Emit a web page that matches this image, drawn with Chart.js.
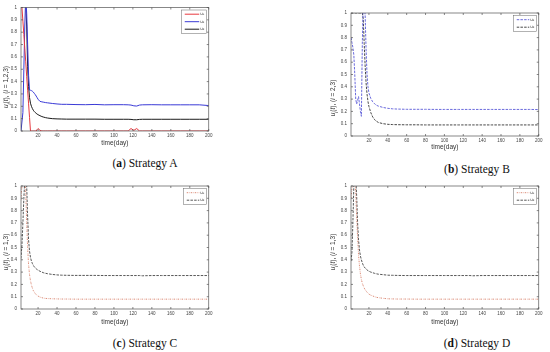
<!DOCTYPE html>
<html><head><meta charset="utf-8">
<script src="https://cdn.jsdelivr.net/npm/chart.js@4.4.1/dist/chart.umd.min.js"></script>
<style>
html,body{margin:0;padding:0;background:#fff;}
body{width:550px;height:352px;position:relative;overflow:hidden;font-family:'Liberation Sans',Arial,sans-serif;}
canvas{position:absolute;}
.ylab{position:absolute;white-space:nowrap;font-size:6.5px;color:#333;transform:translate(-50%,-50%) rotate(-90deg);}
.ylab sub{font-size:4.5px;}
.cap{position:absolute;white-space:nowrap;font-family:'Liberation Serif',serif;font-size:11.5px;color:#111;transform:translate(-50%,-50%);}
</style></head><body>
<canvas id="cA" width="215" height="147" style="left:0;top:0"></canvas>
<canvas id="cB" width="215" height="151" style="left:330px;top:0"></canvas>
<canvas id="cC" width="215" height="150" style="left:0;top:176px"></canvas>
<canvas id="cD" width="215" height="150" style="left:330px;top:176px"></canvas>

<div class="ylab" style="left:7px;top:87px"><i>u<sub>i</sub></i>(<i>t</i>), (<i>i</i> = 1,2,3)</div>
<div class="ylab" style="left:334px;top:98px"><i>u<sub>i</sub></i>(<i>t</i>), (<i>i</i> = 2,3)</div>
<div class="ylab" style="left:7px;top:252px"><i>u<sub>i</sub></i>(<i>t</i>), (<i>i</i> = 1,3)</div>
<div class="ylab" style="left:334px;top:252px"><i>u<sub>i</sub></i>(<i>t</i>), (<i>i</i> = 1,3)</div>

<div class="cap" style="left:145px;top:163px">(<b>a</b>) Strategy A</div>
<div class="cap" style="left:477px;top:169px">(<b>b</b>) Strategy B</div>
<div class="cap" style="left:145px;top:343px">(<b>c</b>) Strategy C</div>
<div class="cap" style="left:477px;top:343px">(<b>d</b>) Strategy D</div>

<script>
// ---- data ----
const days = [1,2,3,4,5,6,7,8,9,10,11,12,13,14,15,16,17,18,19,20,22,24,26,28,30,35,40,45,50,60,70,80,90,100,110,115,118,121,124,127,130,140,150,160,170,180,190,200];
const xTicks = [20,40,60,80,100,120,140,160,180,200];
const yTicks = [0,0.1,0.2,0.3,0.4,0.5,0.6,0.7,0.8,0.9,1];
const xTitle = 'time(day)';

// Strategy A
const aU1 = [1.3,1.15,1.0,0.89,0.78,0.67,0.56,0.44,0.33,0.22,0.11,0,0,0,0,0,0,0,0.012,0.02,0.006,0,0,0,0,0,0,0,0,0,0,0,0,0,0,0,0.02,0.005,0.02,0,0,0,0,0,0,0,0,0];
const aU2 = [0,0,0,0.15,0.5,0.85,1.1,0.95,0.7,0.45,0.33,0.33,0.327,0.322,0.315,0.305,0.295,0.283,0.27,0.257,0.24,0.236,0.233,0.23,0.228,0.223,0.219,0.216,0.216,0.214,0.213,0.215,0.212,0.213,0.213,0.212,0.21,0.204,0.202,0.21,0.212,0.213,0.212,0.212,0.212,0.212,0.212,0.206];
const aU3 = [1.3,1.25,1.2,1.15,1.1,1.06,1.02,0.85,0.52,0.36,0.27,0.225,0.2,0.182,0.168,0.158,0.15,0.143,0.137,0.132,0.124,0.117,0.112,0.108,0.105,0.1,0.098,0.097,0.096,0.096,0.096,0.096,0.095,0.095,0.095,0.095,0.094,0.091,0.091,0.094,0.095,0.095,0.095,0.095,0.095,0.095,0.095,0.095];

// Strategy B
const bU2 = [0.8,0.76,0.72,0.66,0.5,0.3,0.26,0.29,0.32,0.26,0.2,0.16,0.75,1.1,1.1,0.98,0.7,0.5,0.4,0.35,0.305,0.278,0.262,0.25,0.243,0.232,0.225,0.221,0.219,0.217,0.217,0.217,0.216,0.216,0.216,0.216,0.216,0.216,0.216,0.216,0.216,0.216,0.216,0.216,0.216,0.216,0.216,0.215];
const bU3 = [1,1,1,1,1,1,1,1,1,1,1,1,1,0.95,0.75,0.57,0.43,0.34,0.28,0.24,0.19,0.155,0.133,0.12,0.11,0.1,0.095,0.093,0.092,0.091,0.091,0.09,0.09,0.09,0.09,0.09,0.09,0.09,0.09,0.09,0.09,0.09,0.09,0.09,0.09,0.09,0.09,0.09];

// Strategy C
const cU1 = [0.85,0.9,1.0,1.08,1.1,1.05,0.95,0.7,0.5,0.36,0.28,0.23,0.195,0.17,0.15,0.137,0.126,0.117,0.11,0.105,0.097,0.092,0.088,0.086,0.085,0.083,0.082,0.081,0.081,0.08,0.08,0.08,0.08,0.08,0.08,0.08,0.08,0.08,0.08,0.08,0.08,0.08,0.08,0.08,0.08,0.08,0.08,0.08];
const cU3 = [0.38,0.42,0.52,0.7,0.9,1.05,1.1,1.0,0.75,0.56,0.47,0.42,0.39,0.37,0.355,0.343,0.334,0.327,0.321,0.316,0.307,0.3,0.294,0.29,0.287,0.281,0.277,0.275,0.274,0.273,0.273,0.273,0.272,0.272,0.272,0.272,0.272,0.272,0.272,0.272,0.27,0.272,0.272,0.272,0.272,0.272,0.272,0.272];

// Strategy D
const dU1 = [0.9,0.98,1.05,1.1,1.05,0.95,0.75,0.58,0.44,0.35,0.285,0.24,0.21,0.188,0.17,0.157,0.146,0.137,0.128,0.121,0.112,0.106,0.1,0.095,0.092,0.087,0.083,0.082,0.081,0.081,0.08,0.08,0.08,0.08,0.08,0.08,0.08,0.08,0.08,0.08,0.08,0.08,0.08,0.08,0.08,0.08,0.08,0.08];
const dU3 = [0.39,0.46,0.7,1.0,1.1,1.08,0.92,0.7,0.56,0.48,0.43,0.4,0.375,0.356,0.342,0.333,0.325,0.318,0.312,0.307,0.3,0.295,0.29,0.286,0.283,0.279,0.275,0.274,0.273,0.272,0.272,0.272,0.272,0.272,0.272,0.272,0.272,0.272,0.272,0.272,0.27,0.272,0.272,0.272,0.272,0.272,0.272,0.272];

// ---- drawing ----
const pts = arr => days.map((d, i) => ({x: d, y: arr[i]}));

const frame = {
  id: 'frame',
  afterDatasetsDraw(chart, args, o) {
    const {ctx, chartArea: a, scales: {x, y}} = chart;
    ctx.save();
    ctx.strokeStyle = '#555';
    ctx.lineWidth = 0.7;
    ctx.setLineDash([]);
    ctx.strokeRect(a.left, a.top, a.right - a.left, a.bottom - a.top);
    ctx.beginPath();
    x.ticks.forEach(t => {
      const p = x.getPixelForValue(t.value);
      ctx.moveTo(p, a.bottom); ctx.lineTo(p, a.bottom - 2);
      ctx.moveTo(p, a.top); ctx.lineTo(p, a.top + 2);
    });
    y.ticks.forEach(t => {
      const p = y.getPixelForValue(t.value);
      ctx.moveTo(a.left, p); ctx.lineTo(a.left + 2, p);
      ctx.moveTo(a.right, p); ctx.lineTo(a.right - 2, p);
    });
    ctx.stroke();
    // legend box
    const ds = chart.data.datasets;
    const w = o.w, rh = 7.5, h = ds.length * rh + 1;
    const bx = a.right - 2 - w, by = a.top + 2.5;
    ctx.fillStyle = '#fff';
    ctx.fillRect(bx, by, w, h);
    ctx.lineWidth = 0.5;
    ctx.strokeStyle = '#666';
    ctx.strokeRect(bx, by, w, h);
    ds.forEach((d, i) => {
      const cy = by + 4.2 + i * rh;
      ctx.beginPath();
      ctx.setLineDash(d.borderDash || []);
      ctx.strokeStyle = d.borderColor;
      ctx.lineWidth = d.borderWidth;
      ctx.moveTo(bx + 3, cy); ctx.lineTo(bx + w - 7.5, cy);
      ctx.stroke();
      ctx.setLineDash([]);
      ctx.fillStyle = '#333';
      ctx.font = '4px "DejaVu Sans"';
      ctx.textBaseline = 'middle';
      ctx.textAlign = 'left';
      ctx.fillText(d.label, bx + w - 6.5, cy);
    });
    ctx.restore();
  }
};

function makeChart(id, datasets, xMin, padTop, padRight, xH, legW) {
  return new Chart(document.getElementById(id), {
    type: 'line',
    data: {datasets},
    plugins: [frame],
    options: {
      responsive: false,
      animation: false,
      events: [],
      layout: {padding: {left: 0, right: padRight, top: padTop, bottom: 0}},
      elements: {point: {radius: 0}, line: {tension: 0}},
      plugins: {legend: {display: false}, tooltip: {enabled: false}, frame: {w: legW}},
      scales: {
        x: {
          type: 'linear', min: xMin, max: 200,
          afterBuildTicks: s => { s.ticks = xTicks.map(v => ({value: v})); },
          afterFit: s => { s.height = xH; },
          grid: {display: false, drawTicks: false},
          border: {display: false},
          ticks: {font: {size: 4.5, family: 'Liberation Sans'}, color: '#444', padding: 2.5, maxRotation: 0, autoSkip: false, callback: v => String(v)},
          title: {display: true, text: xTitle, font: {size: 6.5, family: 'Liberation Sans'}, color: '#333', padding: 0}
        },
        y: {
          type: 'linear', min: 0, max: 1,
          afterBuildTicks: s => { s.ticks = yTicks.map(v => ({value: v})); },
          afterFit: s => { s.width = 21; },
          grid: {display: false, drawTicks: false},
          border: {display: false},
          ticks: {font: {size: 4.5, family: 'Liberation Sans'}, color: '#444', padding: 4, autoSkip: false, callback: v => String(v)}
        }
      }
    }
  });
}

makeChart('cA', [
  {label: 'u₁', data: pts(aU1), borderColor: '#e8393f', borderWidth: 1},
  {label: 'u₂', data: pts(aU2), borderColor: '#3a3ad6', borderWidth: 1},
  {label: 'u₃', data: pts(aU3), borderColor: '#1a1a1a', borderWidth: 1}
], 2, 7.5, 6, 16, 25);

makeChart('cB', [
  {label: 'u₂', data: pts(bU2), borderColor: '#5a5ad8', borderWidth: 0.9, borderDash: [2.5, 1.2]},
  {label: 'u₃', data: pts(bU3), borderColor: '#333333', borderWidth: 0.9, borderDash: [2.5, 1.2]}
], 1, 13, 5, 15, 23);

makeChart('cC', [
  {label: 'u₁', data: pts(cU1), borderColor: '#d8806a', borderWidth: 0.9, borderDash: [1.5, 1, 0.5, 1]},
  {label: 'u₃', data: pts(cU3), borderColor: '#444444', borderWidth: 0.9, borderDash: [2.5, 1.2]}
], 2, 10, 6, 17, 23);

makeChart('cD', [
  {label: 'u₁', data: pts(dU1), borderColor: '#d8806a', borderWidth: 0.9, borderDash: [1.5, 1, 0.5, 1]},
  {label: 'u₃', data: pts(dU3), borderColor: '#444444', borderWidth: 0.9, borderDash: [2.5, 1.2]}
], 1, 10, 5, 17, 23);
</script>
</body></html>
